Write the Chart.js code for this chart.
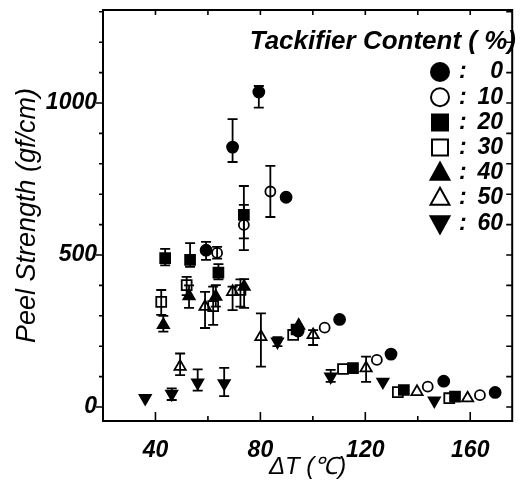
<!DOCTYPE html>
<html>
<head>
<meta charset="utf-8">
<script src="https://cdn.jsdelivr.net/npm/chart.js@4/dist/chart.umd.min.js"></script>
<style>
  html, body { margin: 0; padding: 0; background: #fff; }
  #wrap { width: 521px; height: 484px; }
</style>
</head>
<body>
<div id="wrap"><canvas id="peel"></canvas></div>
<script>
// tackifier content (%) of each series
const contents = ["0", "10", "20", "30", "40", "50", "60"];

// ΔT (°C), peel strength (gf/cm) and error bar ends for every content
const dT_0   = [59.3, 69.4, 79.4, 89.8, 94.4, 110.2, 129.8, 149.9, 169.5];
const peel_0 = [516, 855, 1036, 690, 250, 288, 174, 85, 48];
const lo_0   = [484, 806, 985, null, null, null, null, null, null];
const hi_0   = [543, 947, 1056, null, null, null, null, null, null];

const dT_10   = [63.5, 73.7, 83.8, 104.5, 124.4, 143.8, 163.7];
const peel_10 = [507, 599, 709, 261, 155, 67, 39];
const lo_10   = [488, 516, 625, null, null, null, null];
const hi_10   = [527, 665, 793, null, null, null, null];

const dT_20   = [43.7, 53.2, 64.0, 73.7, 93.8, 115.3, 134.7, 154.2];
const peel_20 = [490, 484, 442, 632, 255, 128, 56, 34];
const lo_20   = [466, 461, 420, 555, null, null, null, null];
const hi_20   = [520, 539, 470, 727, null, null, null, null];

const dT_30   = [42.2, 51.9, 62.0, 72.4, 92.5, 111.5, 132.4, 152.0];
const peel_30 = [346, 401, 332, 385, 237, 125, 49, 29];
const lo_30   = [303, 368, 270, 330, null, null, null, null];
const hi_30   = [385, 428, 396, 420, null, null, null, null];

const dT_40   = [43.0, 52.8, 63.0, 73.8, 94.6];
const peel_40 = [270, 365, 363, 396, 268];
const lo_40   = [248, 326, 330, 326, null];
const hi_40   = [300, 400, 401, 421, null];

const dT_50   = [49.4, 58.9, 69.4, 80.2, 100.1, 120.3, 139.7, 159.0];
const peel_50 = [133, 330, 379, 231, 237, 128, 50, 29];
const lo_50   = [105, 260, 319, 133, 204, 83, null, null];
const hi_50   = [176, 379, 396, 308, 253, 166, null, null];

const dT_60   = [36.1, 46.2, 56.1, 66.2, 86.5, 106.8, 126.7, 146.3];
const peel_60 = [29, 43, 80, 78, 215, 100, 83, 21];
const lo_60   = [null, 23, 54, 36, 200, 83, null, null];
const hi_60   = [null, 61, 124, 129, 230, 122, null, null];

// axis ranges and tick steps
const xRange = [20, 176];
const yRange = [-46, 1306];
const xStep = 20, xLabelStep = 40;
const yStep = 100, yLabelStep = 500;

const xs    = [dT_0, dT_10, dT_20, dT_30, dT_40, dT_50, dT_60];
const ys    = [peel_0, peel_10, peel_20, peel_30, peel_40, peel_50, peel_60];
const errLo = [lo_0, lo_10, lo_20, lo_30, lo_40, lo_50, lo_60];
const errHi = [hi_0, hi_10, hi_20, hi_30, hi_40, hi_50, hi_60];

// marker look per series
const shapes = ["circle", "circle", "rect", "rect", "triangle", "triangle", "triangle"];
const filled = [true, false, true, false, true, false, true];
const turns  = [0, 0, 0, 0, 0, 0, 180];
const radii  = [5.5, 5, 7, 7, 6.5, 6.5, 6.5];

const FONT = "'Liberation Sans', Arial, sans-serif";

const datasets = contents.map((c, i) => ({
    label: c,
    data: xs[i].map((x, j) => ({ x: x, y: ys[i][j] })),
    pointStyle: shapes[i],
    rotation: turns[i],
    pointRadius: radii[i],
    pointHoverRadius: radii[i],
    borderWidth: 1.8,
    borderColor: "#000",
    backgroundColor: filled[i] ? "#000" : "rgba(0,0,0,0)",
    showLine: false,
}));

// ticks on every multiple of step inside the range
function stepTicks(step) {
    return (s) => {
        const out = [];
        for (let v = Math.ceil(s.min / step) * step; v <= s.max; v += step) out.push({ value: v });
        s.ticks = out;
    };
}

// fixed axis box, no extra label padding
function fixBox(prop, size) {
    return (s) => {
        s[prop] = size;
        s.paddingTop = 0; s.paddingBottom = 0;
        s.paddingLeft = 0; s.paddingRight = 0;
    };
}

// one marker, same shapes as the points
function drawMark(ctx, shape, fill, rot, x, y, r) {
    ctx.save();
    ctx.translate(x, y);
    ctx.rotate(rot * Math.PI / 180);
    ctx.beginPath();
    if (shape === "circle") {
        ctx.arc(0, 0, r, 0, Math.PI * 2);
    } else if (shape === "rect") {
        ctx.rect(-r, -r, 2 * r, 2 * r);
    } else {
        const h = r * 1.9;
        ctx.moveTo(0, -h * 0.6);
        ctx.lineTo(r * 1.05, h * 0.4);
        ctx.lineTo(-r * 1.05, h * 0.4);
        ctx.closePath();
    }
    if (fill) { ctx.fillStyle = "#000"; ctx.fill(); }
    ctx.lineWidth = 2;
    ctx.strokeStyle = "#000";
    ctx.stroke();
    ctx.restore();
}

const errorBars = {
    id: "errorBars",
    afterDatasetsDraw(chart) {
        const { ctx, scales: { x, y } } = chart;
        ctx.save();
        ctx.strokeStyle = "#000";
        ctx.lineWidth = 1.8;
        xs.forEach((arr, i) => {
            arr.forEach((v, j) => {
                if (errLo[i][j] == null) return;
                const px = x.getPixelForValue(v);
                const top = y.getPixelForValue(errHi[i][j]);
                const bot = y.getPixelForValue(errLo[i][j]);
                ctx.beginPath();
                ctx.moveTo(px, top); ctx.lineTo(px, bot);
                ctx.moveTo(px - 5, top); ctx.lineTo(px + 5, top);
                ctx.moveTo(px - 5, bot); ctx.lineTo(px + 5, bot);
                ctx.stroke();
            });
        });
        ctx.restore();
    }
};

// box round the plot with ticks on all four sides
const frame = {
    id: "frame",
    afterDraw(chart) {
        const { ctx, chartArea: a, scales: { x, y } } = chart;
        ctx.save();
        ctx.strokeStyle = "#000";
        ctx.lineWidth = 2;
        ctx.strokeRect(a.left, a.top, a.right - a.left, a.bottom - a.top);
        ctx.lineWidth = 1.6;
        ctx.beginPath();
        x.ticks.forEach(t => {
            const px = x.getPixelForValue(t.value);
            const len = t.value % xLabelStep === 0 ? 9 : 5;
            ctx.moveTo(px, a.bottom); ctx.lineTo(px, a.bottom - len);
            ctx.moveTo(px, a.top); ctx.lineTo(px, a.top + 5);
        });
        y.ticks.forEach(t => {
            const py = y.getPixelForValue(t.value);
            const len = t.value % yLabelStep === 0 ? 7 : 4;
            ctx.moveTo(a.left - len, py); ctx.lineTo(a.left, py);
            ctx.moveTo(a.right, py); ctx.lineTo(a.right - 6, py);
        });
        ctx.stroke();
        ctx.restore();
    }
};

const keyBox = {
    id: "keyBox",
    afterDraw(chart) {
        const { ctx } = chart;
        ctx.save();
        ctx.fillStyle = "#000";
        ctx.textBaseline = "middle";
        ctx.font = "italic bold 26px " + FONT;
        ctx.textAlign = "right";
        ctx.fillText("Tackifier Content ( %)", 516, 42);
        ctx.font = "italic bold 23px " + FONT;
        contents.forEach((c, i) => {
            const cy = 72 + i * 25.2;
            const r = shapes[i] === "rect" ? 8 : 9;
            drawMark(ctx, shapes[i], filled[i], turns[i], 440, cy, r);
            ctx.textAlign = "left";
            ctx.fillText(":", 459, cy);
            ctx.textAlign = "right";
            ctx.fillText(c, 503, cy);
        });
        ctx.restore();
    }
};

new Chart(document.getElementById("peel"), {
    type: "scatter",
    data: { datasets: datasets },
    options: {
        responsive: true,
        maintainAspectRatio: false,
        animation: false,
        layout: { padding: { top: 10, right: 8, left: 0, bottom: 0 } },
        plugins: {
            legend: { display: false },
            tooltip: { enabled: false },
        },
        scales: {
            x: {
                type: "linear",
                min: xRange[0],
                max: xRange[1],
                afterBuildTicks: stepTicks(xStep),
                afterFit: fixBox("height", 63),
                grid: { display: false, drawTicks: false },
                border: { display: false },
                ticks: {
                    autoSkip: false,
                    maxRotation: 0,
                    padding: 16,
                    color: "#000",
                    font: { family: FONT, size: 23, style: "italic", weight: "bold" },
                    callback: (v) => (v % xLabelStep === 0 ? v : ""),
                },
                title: {
                    display: true,
                    text: "ΔT (℃)",
                    color: "#000",
                    padding: { top: 0, bottom: 2 },
                    font: { family: FONT, size: 24, style: "italic" },
                },
            },
            y: {
                type: "linear",
                min: yRange[0],
                max: yRange[1],
                afterBuildTicks: stepTicks(yStep),
                afterFit: fixBox("width", 103),
                grid: { display: false, drawTicks: false },
                border: { display: false },
                ticks: {
                    autoSkip: false,
                    padding: 6,
                    color: "#000",
                    font: { family: FONT, size: 23, style: "italic", weight: "bold" },
                    callback: (v) => (v % yLabelStep === 0 ? v : ""),
                },
                title: {
                    display: true,
                    text: "Peel Strength (gf/cm)",
                    color: "#000",
                    padding: { top: 11, bottom: 0 },
                    font: { family: FONT, size: 27, style: "italic" },
                },
            },
        },
    },
    plugins: [errorBars, frame, keyBox],
});
</script>
</body>
</html>
